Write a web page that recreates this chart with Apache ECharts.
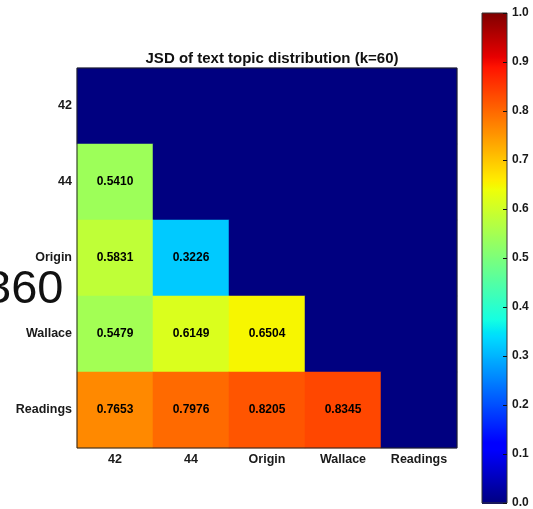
<!DOCTYPE html>
<html>
<head>
<meta charset="utf-8">
<script src="https://cdn.jsdelivr.net/npm/echarts@6/dist/echarts.min.js"></script>
<style>
  html, body { margin: 0; padding: 0; background: #fff; }
  #chart { width: 533px; height: 509px; }
</style>
</head>
<body>
<div id="chart"></div>
<script>
// Texts compared pairwise
const names = ['42', '44', 'Origin', 'Wallace', 'Readings'];

// Jensen-Shannon divergence, lower triangle (row = y category, from top)
const row42 = [0, 0, 0, 0, 0];
const row44 = [0.5410, 0, 0, 0, 0];
const rowOrigin = [0.5831, 0.3226, 0, 0, 0];
const rowWallace = [0.5479, 0.6149, 0.6504, 0, 0];
const rowReadings = [0.7653, 0.7976, 0.8205, 0.8345, 0];
const rows = [row42, row44, rowOrigin, rowWallace, rowReadings];

// Colour bar ticks
const barTicks = [0.0, 0.1, 0.2, 0.3, 0.4, 0.5, 0.6, 0.7, 0.8, 0.9, 1.0];

// matplotlib "jet" colormap
function jet(t) {
  function seg(pts) {
    for (let i = 1; i < pts.length; i++) {
      if (t <= pts[i][0]) {
        const a = pts[i - 1], b = pts[i];
        return a[1] + (b[1] - a[1]) * (t - a[0]) / (b[0] - a[0]);
      }
    }
    return pts[pts.length - 1][1];
  }
  const r = seg([[0, 0], [0.35, 0], [0.66, 1], [0.89, 1], [1, 0.5]]);
  const g = seg([[0, 0], [0.125, 0], [0.375, 1], [0.64, 1], [0.91, 0], [1, 0]]);
  const b = seg([[0, 0.5], [0.11, 1], [0.34, 1], [0.65, 0], [1, 0]]);
  const h = v => Math.round(v * 255).toString(16).padStart(2, '0');
  return '#' + h(r) + h(g) + h(b);
}
const jetColors = [];
for (let i = 0; i <= 200; i++) jetColors.push(jet(i / 200));
// gradient for the colour bar, top = 1.0, bottom = 0.0
const barStops = jetColors.map((c, i) => ({ offset: 1 - i / 200, color: c })).reverse();

const cells = [];
rows.forEach((row, y) => row.forEach((v, x) => cells.push([x, y, v])));

const G = { left: 77, top: 68, width: 380, height: 380 };
const CB = { left: 482, top: 13, width: 25, height: 491 };
const font = "'Liberation Sans', Arial, sans-serif";
const lbl = { color: '#1a1a1a', fontWeight: 'bold', fontSize: 12.5, fontFamily: font };
const tick = { inside: true, length: 4, lineStyle: { color: '#111', width: 1 } };

const chart = echarts.init(document.getElementById('chart'), null, { renderer: 'canvas' });
chart.setOption({
  animation: false,
  backgroundColor: '#fff',
  title: {
    text: 'JSD of text topic distribution (k=60)',
    left: G.left + G.width / 2, top: 46, textAlign: 'center',
    textStyle: { fontSize: 15, fontWeight: 'bold', color: '#111', fontFamily: font }
  },
  grid: [
    Object.assign({ show: true, borderColor: '#222', borderWidth: 1, backgroundColor: 'transparent', z: 10 }, G),
    Object.assign({ show: true, borderColor: '#333', borderWidth: 1, backgroundColor: 'transparent', z: 10 }, CB)
  ],
  xAxis: [
    { type: 'category', data: names, gridIndex: 0, position: 'bottom',
      axisLine: { show: false, onZero: false }, splitLine: { show: false },
      axisTick: Object.assign({ alignWithLabel: true }, tick),
      axisLabel: Object.assign({ margin: 5 }, lbl), z: 11 },
    { type: 'category', data: names, gridIndex: 0, position: 'top',
      axisLine: { show: false, onZero: false }, splitLine: { show: false },
      axisTick: Object.assign({ alignWithLabel: true }, tick),
      axisLabel: { show: false }, z: 11 },
    { type: 'value', gridIndex: 1, show: false, min: 0, max: 1 }
  ],
  yAxis: [
    { type: 'category', data: names, inverse: true, gridIndex: 0, position: 'left',
      axisLine: { show: false, onZero: false }, splitLine: { show: false },
      axisTick: Object.assign({ alignWithLabel: true }, tick),
      axisLabel: Object.assign({ margin: 5 }, lbl), z: 11 },
    { type: 'category', data: names, inverse: true, gridIndex: 0, position: 'right',
      axisLine: { show: false, onZero: false }, splitLine: { show: false },
      axisTick: Object.assign({ alignWithLabel: true }, tick),
      axisLabel: { show: false }, z: 11 },
    { type: 'value', gridIndex: 1, position: 'right', min: 0, max: 1, interval: 0.1,
      axisLine: { show: false, onZero: false }, splitLine: { show: false },
      axisTick: tick,
      axisLabel: Object.assign({ margin: 5, formatter: v => v.toFixed(1) }, lbl, { fontSize: 12 }), z: 11 }
  ],
  visualMap: {
    type: 'continuous', min: 0, max: 1, seriesIndex: 0, show: false,
    inRange: { color: jetColors }
  },
  series: [{
    type: 'heatmap', xAxisIndex: 0, yAxisIndex: 0, data: cells,
    itemStyle: { borderWidth: 0 },
    label: {
      show: true, color: '#000', fontWeight: 'bold', fontSize: 12, fontFamily: font,
      formatter: p => p.value[2] > 0 ? p.value[2].toFixed(4) : ''
    },
    emphasis: { disabled: true }
  }],
  graphic: [
    { type: 'rect', z: 1,
      shape: { x: CB.left, y: CB.top, width: CB.width, height: CB.height },
      style: { fill: new echarts.graphic.LinearGradient(0, 0, 0, 1, barStops) } },
    { type: 'text', left: -15, top: 267, z: 100,
      style: { text: '360', fontSize: 47, fontFamily: font, fill: '#111' } }
  ]
});
</script>
</body>
</html>
